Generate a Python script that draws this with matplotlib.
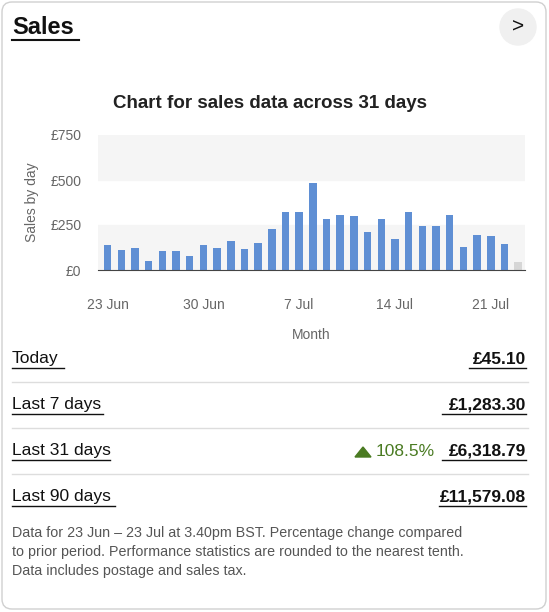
import matplotlib.pyplot as plt
from matplotlib.patches import FancyBboxPatch, Polygon

days = list(range(31))
sales = [139,111,120,50,106,106,78,139,120,163,115,148,226,322,322,481,285,306,300,209,281,170,322,244,244,307,128,196,191,143,45.10]
tick_pos = [0,7,14,21,28]
tick_labels = ['23 Jun','30 Jun','7 Jul','14 Jul','21 Jul']
y_ticks = [0,250,500,750]
y_labels = ['£0','£250','£500','£750']
rows = ['Today','Last 7 days','Last 31 days','Last 90 days']
row_vals = ['£45.10','£1,283.30','£6,318.79','£11,579.08']

plt.rcParams['font.family'] = ['Liberation Sans','DejaVu Sans']
fig = plt.figure(figsize=(5.49,6.12), dpi=100)
W,H = 549,612
def fx(x): return x/W
def fy(y): return 1-y/H

bg = fig.add_axes([0,0,1,1]); bg.set_xlim(0,W); bg.set_ylim(H,0); bg.axis('off')
bg.add_patch(FancyBboxPatch((2,2),W-5,H-5,boxstyle='round,pad=0,rounding_size=10',fc='white',ec='#d0d0d0',lw=1))
bg.text(12,28,'Sales',fontsize=17,fontweight='bold',va='center',color='#111')
bg.plot([12,79],[40,40],color='#111',lw=1.5)
bg.add_patch(plt.Circle((518,27),18,color='#f0f0f0'))
bg.text(518,27,'>',fontsize=15,ha='center',va='center',color='#111')
bg.text(270,103,'Chart for sales data across 31 days',fontsize=13.5,fontweight='bold',ha='center',va='center',color='#222')

row_y = [359,405,451,497]
for i,(r,v) in enumerate(zip(rows,row_vals)):
    y=row_y[i]
    t=bg.text(12,y,r,fontsize=12.5,va='center',color='#111')
    bg.text(526,y,v,fontsize=12.5,fontweight='bold',ha='right',va='center',color='#111')
    lw_ = {0:52,1:91,2:98,3:103}[i]
    bg.plot([12,12+lw_],[y+9,y+9],color='#111',lw=1)
    vw = {0:57,1:84,2:84,3:87}[i]
    bg.plot([526-vw,526],[y+9,y+9],color='#111',lw=1)
    if i<3:
        bg.plot([12,528],[y+23,y+23],color='#ddd',lw=1)
bg.add_patch(Polygon([[355,457],[371,457],[363,447]],color='#4a7b22'))
bg.text(376,451,'108.5%',fontsize=12.5,va='center',color='#4a7b22')
bg.text(12,552,'Data for 23 Jun – 23 Jul at 3.40pm BST. Percentage change compared\nto prior period. Performance statistics are rounded to the nearest tenth.\nData includes postage and sales tax.',
        fontsize=10.3,va='center',color='#555',linespacing=1.45)

ax = fig.add_axes([fx(98),fy(270),fx(525-98),(270-135)/H])
ax.set_ylim(0,750); ax.set_xlim(-0.7,30.5)
ax.axhspan(0,250,color='#f5f5f5',zorder=0)
ax.axhspan(500,750,color='#f5f5f5',zorder=0)
colors=['#5f8fd4']*30+['#d6d6d6']
ax.bar(days,sales,width=0.55,color=colors,zorder=2)
for s in ['top','right','left']: ax.spines[s].set_visible(False)
ax.spines['bottom'].set_color('#444')
ax.set_yticks(y_ticks); ax.set_yticklabels(y_labels,color='#666',fontsize=10)
ax.set_xticks(tick_pos); ax.set_xticklabels(tick_labels,color='#666',fontsize=10)
ax.tick_params(length=0,pad=12)
ax.tick_params(axis='x',pad=20)
ax.set_ylabel('Sales by day',color='#666',fontsize=10,labelpad=8)
ax.set_xlabel('Month',color='#666',fontsize=10,labelpad=12)
fig.savefig('out.png',dpi=100)
